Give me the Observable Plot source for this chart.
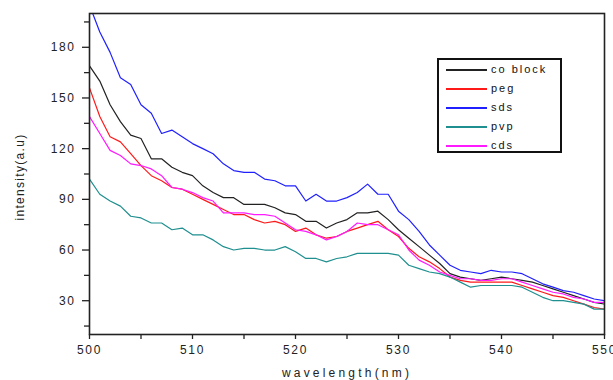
<!DOCTYPE html>
<html><head><meta charset="utf-8">
<script src="https://cdn.jsdelivr.net/npm/d3@7"></script>
<script src="https://cdn.jsdelivr.net/npm/@observablehq/plot@0.6"></script>
<style>
body{margin:0;background:#fff;}
#wrap{position:relative;width:613px;height:380px;overflow:hidden;font-family:"Liberation Sans",Arial,sans-serif;}
#legend{position:absolute;left:437px;top:58px;width:125px;height:95px;box-sizing:border-box;border:2px solid #111;background:#fff;padding-top:0;}
.row{height:19px;position:relative;}
.sw{position:absolute;left:7px;top:9px;width:41px;height:2px;}
.lab{position:absolute;left:52px;top:0;line-height:19px;font-size:11px;letter-spacing:2px;color:#111;}
</style></head><body><div id="wrap"></div>
<script>
const wavelength = [500,501,502,503,504,505,506,507,508,509,510,511,512,513,514,515,516,517,518,519,520,521,522,523,524,525,526,527,528,529,530,531,532,533,534,535,536,537,538,539,540,541,542,543,544,545,546,547,548,549,550];
const coBlock = [169,160,146,136,128,126,114,114,109,106,104,98,94,91,91,87,87,87,85,82,81,77,77,73,76,78,82,82,83,78,72,67,62,57,52,46,44,43,42,43,44,43,42,41,39,37,35,33,31,29,28];
const peg = [156,139,127,124,117,110,104,101,97,96,93,90,87,84,81,81,78,76,77,75,71,73,69,67,68,71,73,75,77,72,68,61,56,53,49,44,42,41,41,41,41,41,39,37,35,33,32,30,28,26,25];
const sds = [205,189,177,162,158,146,141,129,131,127,123,120,117,111,107,106,106,102,101,98,98,89,93,89,89,91,94,99,93,93,83,78,71,63,57,51,48,47,46,48,47,47,46,43,40,38,36,35,33,31,30];
const pvp = [102,93,89,86,80,79,76,76,72,73,69,69,66,62,60,61,61,60,60,62,59,55,55,53,55,56,58,58,58,58,57,51,49,47,46,44,41,38,39,39,39,39,38,35,32,30,30,29,28,25,25];
const cds = [139,129,119,116,111,110,108,104,97,96,94,91,89,82,82,82,81,81,80,76,72,71,69,66,68,71,76,75,75,72,69,60,54,51,47,45,43,43,42,42,43,43,41,39,37,35,34,32,31,29,29];
const seriesNames = ["co block","peg","sds","pvp","cds"];
const seriesColors = ["#222222","#ff1a1a","#2020ff","#1f8f8f","#ff1aff"];
const seriesValues = [coBlock, peg, sds, pvp, cds];
const xMajor = [500,510,520,530,540,550];
const xMinor = [505,515,525,535,545];
const yMajor = [30,60,90,120,150,180];
const yMinor = [15,45,75,105,135,165,195];

const data = seriesNames.flatMap((name, k) => wavelength.map((w, i) => ({w, v: seriesValues[k][i], name})));

const chart = Plot.plot({
  width: 613, height: 380,
  marginLeft: 89, marginRight: 9, marginTop: 13, marginBottom: 46,
  x: {domain: [500, 550]},
  y: {domain: [10, 200]},
  color: {domain: seriesNames, range: seriesColors},
  style: {fontFamily: "Liberation Sans, Arial, sans-serif", fontSize: "12px", color: "#222", background: "#fff", overflow: "visible"},
  marks: [
    Plot.lineY(data, {x: "w", y: "v", stroke: "name", strokeWidth: 1.2, clip: true}),
    Plot.axisY({ticks: yMinor, tickSize: 5, text: null, label: null, strokeWidth: 1.3}),
    Plot.axisY({ticks: yMajor, tickSize: 7, tickPadding: 7, label: null, strokeWidth: 1.3, tickFormat: d => String(d)}),
    Plot.axisX({ticks: xMinor, tickSize: 5, text: null, label: null, strokeWidth: 1.3}),
    Plot.axisX({ticks: xMajor, tickSize: 5, tickPadding: 6, label: null, strokeWidth: 1.3, tickFormat: d => String(d)}),
    Plot.text(["wavelength(nm)"], {frameAnchor: "bottom", textAnchor: "middle", lineAnchor: "middle", dy: 39, fontSize: 12, fill: "#222"}),
    Plot.text(["intensity(a.u)"], {frameAnchor: "left", textAnchor: "middle", lineAnchor: "middle", rotate: -90, dx: -69, dy: 3, fontSize: 12, fill: "#222"}),
    Plot.frame({stroke: "#222", strokeWidth: 1.6})
  ]
});

const svg = d3.select(chart);
svg.selectAll("g[aria-label='y-axis tick label'] text, g[aria-label='x-axis tick label'] text").style("letter-spacing", "1.6px");
svg.selectAll("g[aria-label='text'] text").each(function() {
  const t = d3.select(this);
  t.style("letter-spacing", t.text() === "wavelength(nm)" ? "3.2px" : "1.3px");
});

const wrap = document.getElementById("wrap");
wrap.appendChild(chart);

const legend = document.createElement("div");
legend.id = "legend";
seriesNames.forEach((name, k) => {
  const row = document.createElement("div");
  row.className = "row";
  const sw = document.createElement("div");
  sw.className = "sw";
  sw.style.background = seriesColors[k];
  const lab = document.createElement("span");
  lab.className = "lab";
  lab.textContent = name;
  row.appendChild(sw); row.appendChild(lab);
  legend.appendChild(row);
});
wrap.appendChild(legend);
</script>
</body></html>
